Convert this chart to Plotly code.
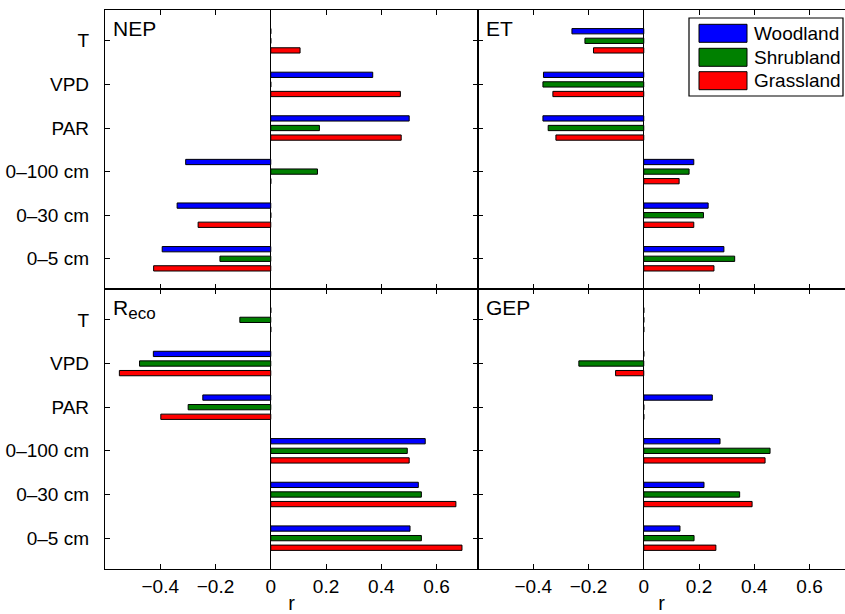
import plotly.graph_objects as go

# Correlation (r) of each flux with each driver, per ecosystem type
factors = ["T", "VPD", "PAR", "0–100 cm", "0–30 cm", "0–5 cm"]
series = ["Woodland", "Shrubland", "Grassland"]
colors = ["#0000ff", "#008000", "#ff0000"]

nep_woodland = [0.0, 0.369, 0.501, -0.308, -0.339, -0.393]
nep_shrubland = [0.0, 0.0, 0.176, 0.169, 0.0, -0.184]
nep_grassland = [0.106, 0.469, 0.472, 0.0, -0.263, -0.424]

et_woodland = [-0.260, -0.363, -0.365, 0.181, 0.233, 0.290]
et_shrubland = [-0.213, -0.365, -0.346, 0.164, 0.216, 0.329]
et_grassland = [-0.182, -0.329, -0.318, 0.128, 0.181, 0.254]

reco_woodland = [0.0, -0.425, -0.246, 0.559, 0.534, 0.504]
reco_shrubland = [-0.112, -0.475, -0.299, 0.494, 0.545, 0.545]
reco_grassland = [0.0, -0.548, -0.398, 0.501, 0.670, 0.692]

gep_woodland = [0.0, 0.0, 0.248, 0.276, 0.218, 0.131]
gep_shrubland = [0.0, -0.235, 0.0, 0.457, 0.347, 0.182]
gep_grassland = [0.0, -0.102, 0.0, 0.439, 0.392, 0.261]

xtick_vals = [-0.4, -0.2, 0, 0.2, 0.4, 0.6]
xtick_text = ["−0.4", "−0.2", "0", "0.2", "0.4", "0.6"]

W, H = 845, 614
FONT = "Liberation Sans, Arial, Helvetica, sans-serif"

panels = [
    ("NEP", [nep_woodland, nep_shrubland, nep_grassland], "", "top", "left"),
    ("ET", [et_woodland, et_shrubland, et_grassland], "2", "top", "right"),
    ("R<sub><span style='font-size:17px'>eco</span></sub>",
     [reco_woodland, reco_shrubland, reco_grassland], "3", "bottom", "left"),
    ("GEP", [gep_woodland, gep_shrubland, gep_grassland], "4", "bottom", "right"),
]

# panel frames in pixels
x_left = (105, 478)
x_right = (478, 845)
y_top = (10.3, 289.3)
y_bot = (289.3, 568.7)
px_per_unit = (x_left[1] - x_left[0]) / 1.35


def xdom(px):
    return [px[0] / W, px[1] / W]


def ydom(py):
    return [1 - py[1] / H, 1 - py[0] / H]


fig = go.Figure()
layout = dict(
    width=W, height=H,
    margin=dict(l=0, r=0, t=0, b=0),
    paper_bgcolor="white", plot_bgcolor="white",
    barmode="group", bargap=0.34, bargroupgap=0.45,
    showlegend=False,
    font=dict(family=FONT, size=19, color="black"),
)

annotations = []
for name, data, sfx, row, col in panels:
    xa, ya = "x" + sfx, "y" + sfx
    for s, vals, c in zip(series, data, colors):
        fig.add_trace(go.Bar(
            y=factors, x=vals, orientation="h", name=s,
            marker=dict(color=c, line=dict(color="black", width=1)),
            xaxis=xa, yaxis=ya,
        ))
    xpx = x_left if col == "left" else x_right
    xmax = -0.6 + (xpx[1] - xpx[0]) / px_per_unit
    ypx = y_top if row == "top" else y_bot
    layout["xaxis" + sfx] = dict(
        domain=xdom(xpx), range=[-0.6, xmax], anchor=ya,
        tickvals=xtick_vals, ticktext=xtick_text,
        showticklabels=(row == "bottom"),
        ticks="inside", ticklen=5, tickcolor="black",
        showline=True, linecolor="black", linewidth=1.3, mirror="allticks",
        showgrid=False, zeroline=True, zerolinecolor="black", zerolinewidth=1,
        tickfont=dict(size=19),
        title=dict(text="r", font=dict(size=20), standoff=2) if row == "bottom" else None,
    )
    layout["yaxis" + sfx] = dict(
        domain=ydom(ypx), anchor=xa, type="category",
        categoryorder="array", categoryarray=factors,
        range=[5.7, -0.7],
        showticklabels=(col == "left"), ticklabelstandoff=11,
        ticks="inside", ticklen=5, tickcolor="black",
        showline=True, linecolor="black", linewidth=1.3,
        mirror="allticks" if col == "left" else False,
        showgrid=False, zeroline=False,
        tickfont=dict(size=19),
    )
    annotations.append(dict(
        text=name, xref=xa + " domain", yref=ya + " domain",
        x=0, y=1, xanchor="left", yanchor="top", xshift=6, yshift=-5,
        showarrow=False, font=dict(size=21, color="black"),
    ))

# legend box drawn at the top-right of the ET panel
shapes = []
lg = dict(x0=689, x1=843, y0=18, y1=96)
shapes.append(dict(type="rect", xref="paper", yref="paper",
                   x0=lg["x0"] / W, x1=lg["x1"] / W,
                   y0=1 - lg["y1"] / H, y1=1 - lg["y0"] / H,
                   line=dict(color="black", width=1.2), fillcolor="white", layer="above"))
row_top = [24.3, 48.3, 71.7]
for s, c, rt in zip(series, colors, row_top):
    shapes.append(dict(type="rect", xref="paper", yref="paper",
                       x0=699 / W, x1=747 / W,
                       y0=1 - (rt + 18) / H, y1=1 - rt / H,
                       line=dict(color="black", width=1), fillcolor=c, layer="above"))
    annotations.append(dict(
        text=s, xref="paper", yref="paper", x=752 / W, y=1 - (rt + 9) / H,
        xanchor="left", yanchor="middle", showarrow=False,
        font=dict(size=19, color="black"),
    ))

layout["shapes"] = shapes
layout["annotations"] = annotations
fig.update_layout(**layout)
fig.write_html("out.html")
